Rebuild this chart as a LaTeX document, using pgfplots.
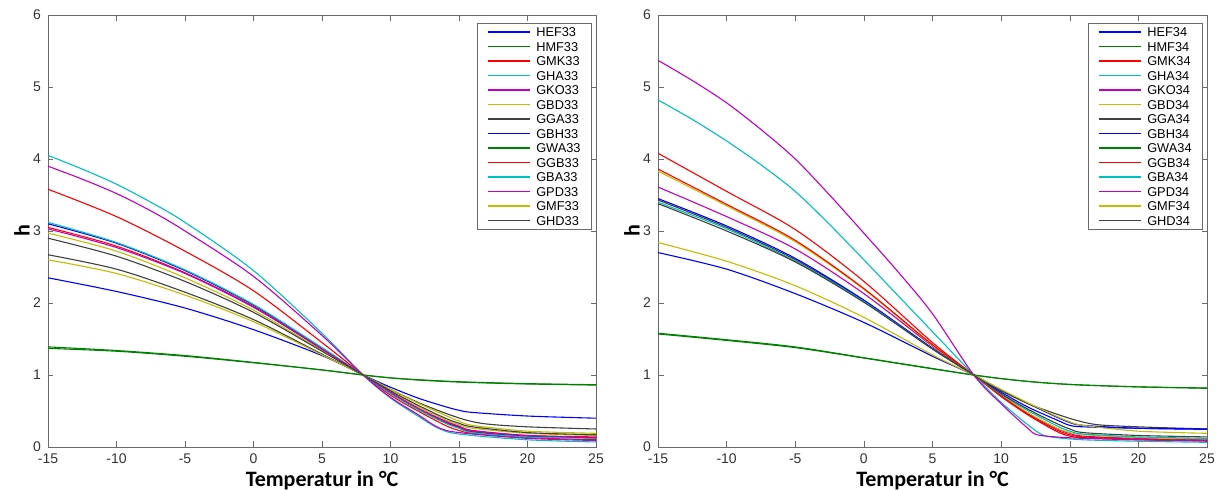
\documentclass[border=0pt]{standalone}
\usepackage{fontspec}
\setmainfont{Liberation Sans}
\newfontfamily\lblfont{Carlito}
\usepackage{pgfplots}
\pgfplotsset{compat=1.18}
% MATLAB default line colour cycle
\definecolor{mb}{rgb}{0,0,1}
\definecolor{mg}{rgb}{0,0.5,0}
\definecolor{mr}{rgb}{1,0,0}
\definecolor{mc}{rgb}{0,0.75,0.75}
\definecolor{mm}{rgb}{0.75,0,0.75}
\definecolor{my}{rgb}{0.75,0.75,0}
\definecolor{mk}{rgb}{0.25,0.25,0.25}
\definecolor{frame}{HTML}{6A6A6A}
\pgfplotsset{
  hplot/.style={
    scale only axis, height=216pt,
    xmin=-15, xmax=25, ymin=0, ymax=6,
    xtick={-15,-10,...,25}, ytick={0,1,...,6},
    tick align=inside, major tick length=2.75pt,
    axis line style={color=frame}, tick style={color=frame},
    tick label style={font=\fontsize{7}{8}\selectfont, color=black!80},
    /pgf/number format/assume math mode=true,
    xlabel={Temperatur in °C}, ylabel={h},
    every axis x label/.style={at={(axis description cs:0.5,0)}, yshift=-19.8pt, anchor=base,
      font=\lblfont\bfseries\fontsize{11}{13}\selectfont},
    every axis y label/.style={at={(axis description cs:0,0.5)}, xshift=-13pt, rotate=90, anchor=center,
      font=\lblfont\bfseries\fontsize{11}{13}\selectfont},
    every axis plot/.append style={line width=0.55pt, mark=none, smooth, tension=0.5},
    legend image code/.code={\draw[#1, line width=0.6pt] (0pt,0pt) -- (21pt,0pt);},
    legend cell align=left,
    legend style={at={(1,1)}, anchor=north east, xshift=-2pt, yshift=-4pt,
      font=\fontsize{6.4}{7}\selectfont, draw=frame, inner xsep=5pt, inner ysep=1.5pt,
      nodes={inner sep=0.5pt, text height=4.6pt, text depth=0pt}, row sep=1.65pt,
      column sep=2.5pt},
  },
}
\begin{document}
\begin{tikzpicture}
\useasboundingbox (-24pt,-21.5pt) rectangle (585pt,223.5pt);
\begin{axis}[hplot, width=274pt, at={(0pt,0pt)}]
\addplot[mb] coordinates {(-15,2.35)(-10,2.16)(-5,1.93)(0,1.63)(5,1.27)(8,1.0)(10,0.83)(12,0.68)(14,0.56)(15,0.51)(16,0.48)(20,0.43)(25,0.40)};
\addplot[mg] coordinates {(-15,1.37)(-10,1.33)(-5,1.26)(0,1.17)(5,1.07)(8,1.0)(10,0.96)(12,0.935)(14,0.915)(16,0.9)(20,0.88)(25,0.865)};
\addplot[mr] coordinates {(-15,3.58)(-10,3.2)(-5,2.72)(0,2.17)(5,1.45)(8,1.0)(10,0.72)(12,0.5)(14,0.3)(15,0.23)(16,0.19)(20,0.13)(25,0.1)};
\addplot[mc] coordinates {(-15,4.05)(-12.5,3.86)(-10,3.65)(-7.5,3.4)(-5,3.12)(0,2.45)(5,1.58)(8,1.0)(10,0.68)(12,0.43)(13.5,0.26)(15,0.18)(20,0.1)(25,0.07)};
\addplot[mm] coordinates {(-15,3.9)(-12.5,3.72)(-10,3.52)(-7.5,3.28)(-5,3.0)(0,2.37)(5,1.55)(8,1.0)(10,0.69)(12,0.45)(13.5,0.27)(15,0.2)(20,0.12)(25,0.09)};
\addplot[my] coordinates {(-15,2.97)(-10,2.72)(-5,2.35)(0,1.9)(5,1.34)(8,1.0)(10,0.77)(12,0.56)(14,0.38)(15,0.31)(16,0.26)(20,0.19)(25,0.16)};
\addplot[mk] coordinates {(-15,2.67)(-10,2.47)(-5,2.15)(0,1.77)(5,1.29)(8,1.0)(10,0.8)(12,0.62)(14,0.47)(15.5,0.375)(17,0.32)(20,0.28)(25,0.25)};
\addplot[mb] coordinates {(-15,3.1)(-10,2.83)(-5,2.45)(0,1.97)(5,1.37)(8,1.0)(10,0.75)(12,0.53)(14,0.34)(15,0.27)(16,0.21)(20,0.15)(25,0.13)};
\addplot[mg] coordinates {(-15,1.39)(-10,1.34)(-5,1.27)(0,1.175)(5,1.07)(8,1.0)(10,0.96)(12,0.93)(14,0.91)(16,0.895)(20,0.875)(25,0.86)};
\addplot[mr] coordinates {(-15,3.05)(-10,2.79)(-5,2.42)(0,1.95)(5,1.36)(8,1.0)(10,0.75)(12,0.53)(14,0.35)(15,0.28)(16,0.22)(20,0.16)(25,0.14)};
\addplot[mc] coordinates {(-15,3.12)(-10,2.84)(-5,2.46)(0,1.98)(5,1.38)(8,1.0)(10,0.74)(12,0.52)(14,0.33)(15,0.26)(16,0.2)(20,0.14)(25,0.12)};
\addplot[mm] coordinates {(-15,3.03)(-10,2.77)(-5,2.41)(0,1.94)(5,1.36)(8,1.0)(10,0.76)(12,0.54)(14,0.36)(15,0.29)(16,0.23)(20,0.16)(25,0.13)};
\addplot[my] coordinates {(-15,2.6)(-10,2.41)(-5,2.11)(0,1.74)(5,1.28)(8,1.0)(10,0.8)(12,0.61)(14,0.44)(15,0.36)(16,0.3)(20,0.22)(25,0.19)};
\addplot[mk] coordinates {(-15,2.9)(-10,2.65)(-5,2.3)(0,1.87)(5,1.33)(8,1.0)(10,0.78)(12,0.58)(14,0.4)(15,0.33)(16,0.28)(20,0.2)(25,0.17)};
\legend{HEF33,HMF33,GMK33,GHA33,GKO33,GBD33,GGA33,GBH33,GWA33,GGB33,GBA33,GPD33,GMF33,GHD33}
\end{axis}
\begin{axis}[hplot, width=274.5pt, at={(305pt,0pt)}]
\addplot[mb] coordinates {(-15,2.7)(-10,2.47)(-5,2.13)(0,1.73)(5,1.26)(8,1.0)(10,0.79)(12,0.6)(14,0.42)(15,0.34)(16,0.3)(20,0.26)(25,0.245)};
\addplot[mg] coordinates {(-15,1.58)(-10,1.49)(-5,1.39)(0,1.24)(5,1.09)(8,1.0)(10,0.95)(12,0.91)(14,0.88)(16,0.86)(20,0.835)(25,0.815)};
\addplot[mr] coordinates {(-15,4.08)(-10,3.55)(-5,3.02)(0,2.3)(5,1.45)(8,1.0)(10,0.7)(12,0.44)(14,0.22)(15,0.15)(16,0.13)(20,0.1)(25,0.08)};
\addplot[mc] coordinates {(-15,4.82)(-12.5,4.55)(-10,4.25)(-7.5,3.92)(-5,3.55)(-2.5,3.09)(0,2.6)(2.5,2.1)(5,1.6)(8,1.0)(10,0.62)(12,0.3)(13,0.17)(14,0.13)(16,0.1)(20,0.08)(25,0.065)};
\addplot[mm] coordinates {(-15,3.61)(-10,3.2)(-5,2.75)(0,2.13)(5,1.4)(8,1.0)(10,0.72)(12,0.46)(14,0.26)(15,0.19)(16,0.15)(20,0.12)(25,0.1)};
\addplot[my] coordinates {(-15,3.83)(-10,3.35)(-5,2.85)(0,2.19)(5,1.41)(8,1.0)(10,0.72)(12,0.47)(14,0.27)(15,0.2)(16,0.17)(20,0.13)(25,0.11)};
\addplot[mk] coordinates {(-15,3.43)(-10,3.05)(-5,2.6)(0,2.03)(5,1.37)(8,1.0)(10,0.78)(12,0.6)(14,0.46)(15.4,0.375)(17,0.31)(20,0.28)(25,0.25)};
\addplot[mb] coordinates {(-15,3.45)(-10,3.07)(-5,2.62)(0,2.04)(5,1.37)(8,1.0)(10,0.76)(12,0.55)(14,0.38)(15,0.3)(16,0.28)(20,0.26)(25,0.25)};
\addplot[mg] coordinates {(-15,1.57)(-10,1.48)(-5,1.38)(0,1.235)(5,1.085)(8,1.0)(10,0.95)(12,0.91)(14,0.88)(16,0.86)(20,0.835)(25,0.82)};
\addplot[mr] coordinates {(-15,3.86)(-10,3.37)(-5,2.87)(0,2.2)(5,1.42)(8,1.0)(10,0.71)(12,0.45)(14,0.24)(15,0.17)(16,0.14)(20,0.11)(25,0.09)};
\addplot[mc] coordinates {(-15,3.4)(-10,3.03)(-5,2.58)(0,2.02)(5,1.36)(8,1.0)(10,0.73)(12,0.5)(14,0.3)(15,0.22)(16,0.18)(20,0.14)(25,0.12)};
\addplot[mm] coordinates {(-15,5.37)(-12.5,5.09)(-10,4.78)(-7.5,4.41)(-5,4.0)(-2.5,3.5)(0,2.97)(2.5,2.43)(5,1.85)(8,1.0)(10,0.6)(12,0.25)(12.6,0.17)(14,0.14)(16,0.12)(20,0.1)(25,0.09)};
\addplot[my] coordinates {(-15,2.84)(-10,2.58)(-5,2.24)(0,1.8)(5,1.28)(8,1.0)(10,0.8)(12,0.61)(14,0.43)(15,0.35)(16,0.3)(20,0.22)(25,0.19)};
\addplot[mk] coordinates {(-15,3.38)(-10,3.0)(-5,2.57)(0,2.01)(5,1.36)(8,1.0)(10,0.74)(12,0.52)(14,0.33)(15,0.25)(16,0.2)(20,0.16)(25,0.14)};
\legend{HEF34,HMF34,GMK34,GHA34,GKO34,GBD34,GGA34,GBH34,GWA34,GGB34,GBA34,GPD34,GMF34,GHD34}
\end{axis}
\end{tikzpicture}
\end{document}
